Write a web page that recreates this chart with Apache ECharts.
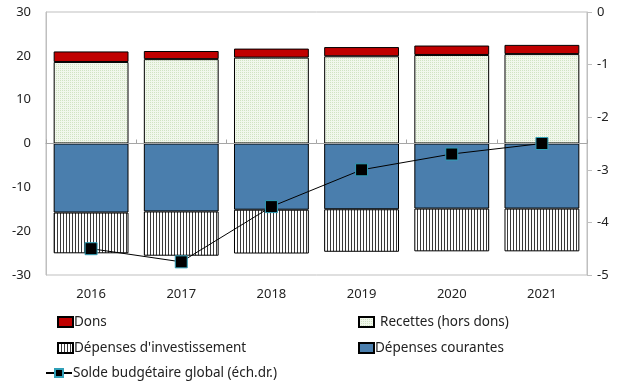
<!DOCTYPE html>
<html><head><meta charset="utf-8">
<script src="https://cdn.jsdelivr.net/npm/echarts@6/dist/echarts.min.js"></script>
<style>html,body{margin:0;padding:0;background:#fff}#c{width:621px;height:387px}</style>
</head><body><div id="c"></div>
<script>
const categories = ['2016','2017','2018','2019','2020','2021'];
const dons = [2.4, 1.85, 2.05, 2.1, 2.15, 2.1];
const recettes = [18.6, 19.25, 19.6, 19.9, 20.2, 20.4];
const depCourantes = [-15.75, -15.5, -15.1, -15.0, -14.85, -14.85];
const depInvest = [-9.3, -10.1, -10.0, -9.7, -9.75, -9.75];
const solde = [-4.5, -4.75, -3.7, -3.0, -2.7, -2.5];
const leftTicks = {min: -30, max: 30, interval: 10};
const rightTicks = {min: -5, max: 0, interval: 1};

function dotPattern() {
  const c = document.createElement('canvas'); c.width = 2; c.height = 2;
  const x = c.getContext('2d');
  x.fillStyle = '#f1f7ec'; x.fillRect(0,0,2,2);
  x.fillStyle = '#d0e3c2'; x.fillRect(0,0,1,1);
  return c;
}
function stripePattern() {
  const c = document.createElement('canvas'); c.width = 3; c.height = 4;
  const x = c.getContext('2d');
  x.fillStyle = '#ffffff'; x.fillRect(0,0,3,4);
  x.fillStyle = '#3a3a3a'; x.fillRect(0,0,1,4);
  return c;
}
const FONT = 'Noto Sans';
const chart = echarts.init(document.getElementById('c'));
const legendBase = {padding: 0, itemHeight: 10, itemWidth: 15, icon: 'rect', textStyle: {fontFamily: FONT, fontSize: 13.5, color: '#222', padding: [0,0,0,-4]}, selectedMode: false};
chart.setOption({
  animation: false,
  grid: {left: 46, right: 34, top: 12, bottom: 112, show: true, borderColor: '#bfbfbf', borderWidth: 1},
  xAxis: [
    {type: 'category', data: categories, z: 3, axisLine: {onZero: true, onZeroAxisIndex: 0, lineStyle: {color: '#a6a6a6', width: 1}},
     axisTick: {show: true, inside: true, length: 4, lineStyle: {color: '#a6a6a6'}}, axisLabel: {show: false}},
    {type: 'category', data: categories, position: 'bottom', axisLine: {show: false, onZero: false}, axisTick: {show: false},
     axisLabel: {margin: 13, fontFamily: FONT, fontSize: 13, color: '#222'}}
  ],
  yAxis: [
    {type: 'value', min: leftTicks.min, max: leftTicks.max, interval: leftTicks.interval, splitLine: {show: false},
     axisLine: {show: true, lineStyle: {color: '#bfbfbf'}}, axisTick: {show: false},
     axisLabel: {margin: 15, fontFamily: FONT, fontSize: 13, color: '#222'}},
    {type: 'value', min: rightTicks.min, max: rightTicks.max, interval: rightTicks.interval, position: 'right', splitLine: {show: false},
     axisLine: {show: true, lineStyle: {color: '#bfbfbf'}}, axisTick: {show: true, length: 5, lineStyle: {color: '#bfbfbf'}},
     axisLabel: {margin: 10, fontFamily: FONT, fontSize: 13, color: '#222'}}
  ],
  legend: [
    Object.assign({}, legendBase, {data: ['Dons'], left: 57, top: 315}),
    Object.assign({}, legendBase, {data: ['Recettes (hors dons)'], left: 358, top: 315, textStyle: Object.assign({}, legendBase.textStyle, {padding: [0,0,0,1]})}),
    Object.assign({}, legendBase, {data: ["Dépenses d'investissement"], left: 57, top: 341}),
    Object.assign({}, legendBase, {data: ['Dépenses courantes'], left: 358, top: 341}),
    Object.assign({}, legendBase, {data: ['Solde budgétaire global (éch.dr.)'], left: 45, top: 366, itemWidth: 26, icon: null})
  ],
  series: [
    {name: 'Recettes (hors dons)', type: 'bar', stack: 's', data: recettes, barCategoryGap: '17%',
     itemStyle: {color: {image: dotPattern(), repeat: 'repeat'}, borderColor: '#000', borderWidth: 1}},
    {name: 'Dons', type: 'bar', stack: 's', data: dons,
     itemStyle: {color: '#c00000', borderColor: '#000', borderWidth: 1}},
    {name: 'Dépenses courantes', type: 'bar', stack: 's', data: depCourantes,
     itemStyle: {color: '#4a7ead', borderColor: '#000', borderWidth: 1}},
    {name: "Dépenses d'investissement", type: 'bar', stack: 's', data: depInvest,
     itemStyle: {color: {image: stripePattern(), repeat: 'repeat'}, borderColor: '#000', borderWidth: 1}},
    {name: 'Solde budgétaire global (éch.dr.)', type: 'line', yAxisIndex: 1, data: solde, z: 5,
     symbol: 'rect', symbolSize: 12, lineStyle: {color: '#000', width: 1},
     itemStyle: {color: '#000', borderColor: '#31a0b8', borderWidth: 1}}
  ]
});
</script></body></html>
